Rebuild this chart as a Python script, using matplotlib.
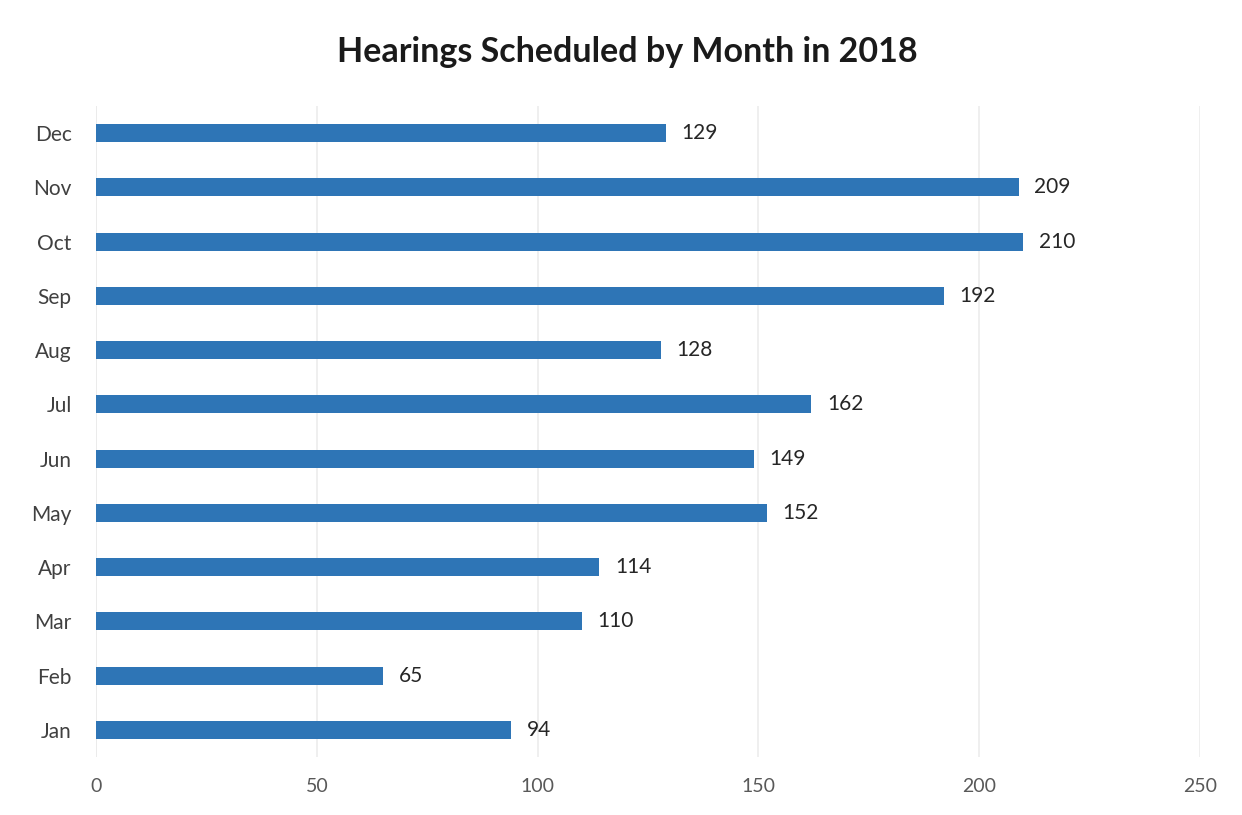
import matplotlib
matplotlib.use("Agg")
import matplotlib.pyplot as plt

months = ["Jan", "Feb", "Mar", "Apr", "May", "Jun", "Jul", "Aug", "Sep", "Oct", "Nov", "Dec"]
hearings = [94, 65, 110, 114, 152, 149, 162, 128, 192, 210, 209, 129]
x_ticks = [0, 50, 100, 150, 200, 250]

plt.rcParams['font.family'] = ['Lato', 'DejaVu Sans']

fig = plt.figure(figsize=(12.42, 8.15), dpi=100)
ax = fig.add_axes([96/1242, 1-757/815, (1200-96)/1242, (757-106)/815])

ypos = list(range(len(months)))
ax.barh(ypos, hearings, height=0.33, color="#2E75B6", zorder=3)
for y, v in zip(ypos, hearings):
    ax.text(v + 3.5, y, str(v), va="center", ha="left", fontsize=15, color="#262626")

ax.set_xlim(0, 250)
ax.set_ylim(-0.5, 11.5)
ax.set_xticks(x_ticks)
ax.set_xticklabels([str(t) for t in x_ticks], fontsize=14, color="#595959")
ax.set_yticks(ypos)
ax.set_yticklabels(months, fontsize=15, color="#404040")
ax.tick_params(axis="both", length=0)
ax.tick_params(axis="x", pad=15)
ax.tick_params(axis="y", pad=17.5)
ax.grid(axis="x", color="#ececec", linewidth=1.2, zorder=0)
for s in ax.spines.values():
    s.set_visible(False)
ax.axvline(0, color="#e6e6e6", linewidth=1.2, zorder=1)

fig.text(627/1242, 1-52/815, "Hearings Scheduled by Month in 2018", ha="center", va="center",
         fontsize=24.5, fontweight="bold", color="#1a1a1a")

fig.savefig("out.png", dpi=100)
